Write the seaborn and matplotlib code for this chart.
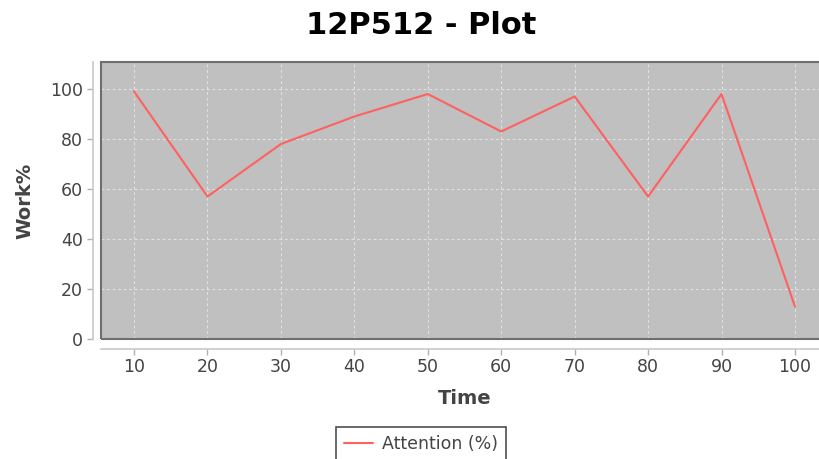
import matplotlib
matplotlib.use("Agg")
import matplotlib.pyplot as plt
import seaborn as sns
import pandas as pd
from matplotlib.patches import Rectangle

# data
time = [10, 20, 30, 40, 50, 60, 70, 80, 90, 100]
attention = [99, 57, 78, 89, 98, 83, 97, 57, 98, 13]
x_ticks = [10, 20, 30, 40, 50, 60, 70, 80, 90, 100]
y_ticks = [0, 20, 40, 60, 80, 100]

df = pd.DataFrame({"Time": time, "Attention (%)": attention})

sns.set_theme(style="white")
plt.rcParams["font.family"] = ["DejaVu Sans"]

fig = plt.figure(figsize=(8.19, 4.59), dpi=100)
W, H = 819, 459
# plot area in pixels: left 101, top 62, bottom 339, right 828 (cut off)
ax = fig.add_axes([101 / W, (H - 339) / H, 727 / W, 277 / H])
ax.set_facecolor("#c0c0c0")

sns.lineplot(data=df, x="Time", y="Attention (%)", ax=ax, color="#ff6060",
             linewidth=1.5, label="Attention (%)", legend=False)

ax.set_xlim(5.5, 104.5)
ax.set_ylim(0, 110.8)
ax.set_xticks(x_ticks)
ax.set_yticks(y_ticks)
ax.grid(True, color="#e8e8e8", linestyle=(0, (2.5, 2.5)), linewidth=0.8, alpha=0.85)

# outline of the plot area
ax.add_patch(Rectangle((0, 0), 1, 1, transform=ax.transAxes, fill=False,
                       edgecolor="#6e6e6e", linewidth=1.5, clip_on=False, zorder=5))

# offset axis lines like JFreeChart
for side in ["top", "right"]:
    ax.spines[side].set_visible(False)
ax.spines["left"].set_position(("outward", 6))
ax.spines["bottom"].set_position(("outward", 7))
for side in ["left", "bottom"]:
    ax.spines[side].set_color("#c8c8c8")
    ax.spines[side].set_linewidth(1.2)

ax.tick_params(axis="both", which="major", bottom=True, left=True, length=4,
               width=1, color="#b0b0b0", labelsize=12.5, labelcolor="#444444",
               direction="out", pad=3)

ax.set_xlabel("Time", fontsize=14, fontweight="bold", color="#444444", labelpad=9)
ax.set_ylabel("Work%", fontsize=14, fontweight="bold", color="#444444", labelpad=11)

fig.text(421 / W, 1 - 25 / H, "12P512 - Plot", fontsize=22, fontweight="bold",
         ha="center", va="center", color="black")

leg = fig.legend(handles=ax.get_lines(), labels=["Attention (%)"],
                 loc="upper center", bbox_to_anchor=(421 / W, 1 - 427 / H),
                 frameon=True, fancybox=False, fontsize=12.5, handlelength=1.7,
                 borderpad=0.45, handletextpad=0.5, borderaxespad=0)
leg.get_frame().set_edgecolor("#222222")
leg.get_frame().set_linewidth(1.2)
for t in leg.get_texts():
    t.set_color("#444444")

fig.savefig("out.png", dpi=100)
